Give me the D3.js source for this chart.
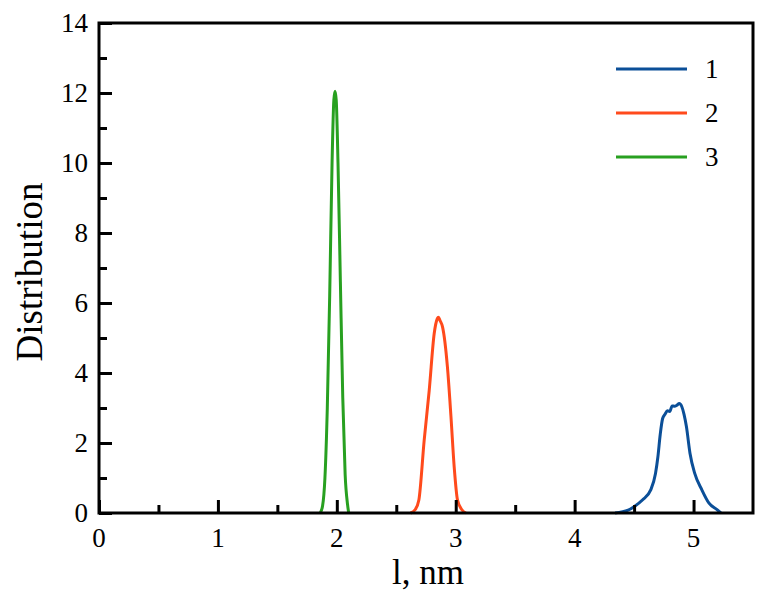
<!DOCTYPE html>
<html>
<head>
<meta charset="utf-8">
<script src="https://cdn.jsdelivr.net/npm/d3@7"></script>
<style>
  body { margin: 0; background: #fff; }
  svg { display: block; font-family: "Liberation Serif", "Times New Roman", serif; }
</style>
</head>
<body>
<svg id="chart" width="771" height="595"></svg>
<script>
// data
var seriesNames = ['1', '2', '3'],
    seriesColors = ['#0b4f98', '#ff4a1c', '#28a020'];

var curve1 = [
  [4.34, 0.0], [4.45, 0.08], [4.50, 0.18], [4.57, 0.37], [4.64, 0.66], [4.68, 1.13],
  [4.70, 1.6], [4.72, 2.25], [4.74, 2.7], [4.76, 2.82], [4.78, 2.92], [4.80, 2.9],
  [4.82, 3.06], [4.84, 3.05], [4.86, 3.08], [4.88, 3.13], [4.90, 3.05], [4.92, 2.82],
  [4.94, 2.47], [4.97, 1.71], [5.01, 1.13], [5.07, 0.66], [5.13, 0.28], [5.20, 0.09],
  [5.23, 0.0]
];
var curve2 = [
  [2.62, 0.0], [2.66, 0.1], [2.69, 0.37], [2.735, 2.09], [2.777, 3.5], [2.819, 5.13],
  [2.845, 5.55], [2.855, 5.59], [2.868, 5.5], [2.889, 5.32], [2.93, 4.18], [2.96, 2.75],
  [2.987, 1.32], [3.015, 0.37], [3.05, 0.1], [3.085, 0.0]
];
var curve3 = [
  [1.86, 0.0], [1.88, 0.2], [1.90, 1.0], [1.92, 3.0], [1.94, 6.2], [1.96, 10.0],
  [1.975, 11.8], [1.985, 12.05], [1.995, 11.8], [2.01, 10.0], [2.03, 6.6], [2.05, 3.3],
  [2.07, 1.1], [2.09, 0.25], [2.10, 0.0]
];
var curves = [curve1, curve2, curve3];

var xTicks = [0, 1, 2, 3, 4, 5],
    yTicks = [0, 2, 4, 6, 8, 10, 12, 14];

// layout
var margin = { top: 23, right: 18, bottom: 82, left: 99 },
    width = 771 - margin.left - margin.right,
    height = 595 - margin.top - margin.bottom;

var svg = d3.select('#chart');
var g = svg.append('g')
    .attr('transform', 'translate(' + margin.left + ',' + margin.top + ')');

var x = d3.scaleLinear().domain([0, 5.5]).range([0, width]),
    y = d3.scaleLinear().domain([0, 14]).range([height, 0]);

// curves
var line = d3.line()
    .x(function (d) { return x(d[0]); })
    .y(function (d) { return y(d[1]); })
    .curve(d3.curveMonotoneX);

g.selectAll('path.curve')
    .data(curves)
    .enter().append('path')
    .attr('class', 'curve')
    .attr('d', line)
    .attr('fill', 'none')
    .attr('stroke', function (d, i) { return seriesColors[i]; })
    .attr('stroke-width', 3)
    .attr('stroke-linejoin', 'round');

// axes with inward ticks
function inward(axis, minor) {
  return axis.tickSizeInner(minor ? 8 : 13).tickSizeOuter(0);
}

g.append('g')
    .attr('transform', 'translate(0,' + height + ')')
    .call(inward(d3.axisTop(x).tickValues(d3.range(0.5, 5.5, 1)).tickFormat(''), true));
g.append('g')
    .attr('transform', 'translate(0,' + height + ')')
    .call(inward(d3.axisTop(x).tickValues(xTicks).tickFormat(''), false));
g.append('g')
    .call(inward(d3.axisRight(y).tickValues(d3.range(1, 14, 2)).tickFormat(''), true));
g.append('g')
    .call(inward(d3.axisRight(y).tickValues(yTicks).tickFormat(''), false));

g.selectAll('.domain').remove();
g.selectAll('.tick line').attr('stroke', '#000').attr('stroke-width', 3);

// tick labels
g.selectAll('text.xl')
    .data(xTicks)
    .enter().append('text')
    .attr('class', 'xl')
    .attr('x', function (d) { return x(d); })
    .attr('y', height + 34)
    .attr('text-anchor', 'middle')
    .attr('font-size', 27)
    .text(function (d) { return d; });

g.selectAll('text.yl')
    .data(yTicks)
    .enter().append('text')
    .attr('class', 'yl')
    .attr('x', -11)
    .attr('y', function (d) { return y(d); })
    .attr('dy', '0.35em')
    .attr('text-anchor', 'end')
    .attr('font-size', 27)
    .text(function (d) { return d; });

// frame
g.append('rect')
    .attr('width', width)
    .attr('height', height)
    .attr('fill', 'none')
    .attr('stroke', '#000')
    .attr('stroke-width', 3);

// axis titles
svg.append('text')
    .attr('x', margin.left + width / 2 + 2)
    .attr('y', 584)
    .attr('text-anchor', 'middle')
    .attr('font-size', 35)
    .text('l, nm');

svg.append('text')
    .attr('transform', 'translate(42,' + (margin.top + height / 2 + 4) + ') rotate(-90)')
    .attr('text-anchor', 'middle')
    .attr('font-size', 37)
    .text('Distribution');

// legend
var legend = svg.append('g').selectAll('g')
    .data(seriesNames)
    .enter().append('g')
    .attr('transform', function (d, i) { return 'translate(616,' + (69 + i * 44) + ')'; });

legend.append('line')
    .attr('x1', 0).attr('x2', 71)
    .attr('stroke', function (d, i) { return seriesColors[i]; })
    .attr('stroke-width', 3);

legend.append('text')
    .attr('x', 89)
    .attr('dy', '0.35em')
    .attr('font-size', 27)
    .text(function (d) { return d; });
</script>
</body>
</html>
